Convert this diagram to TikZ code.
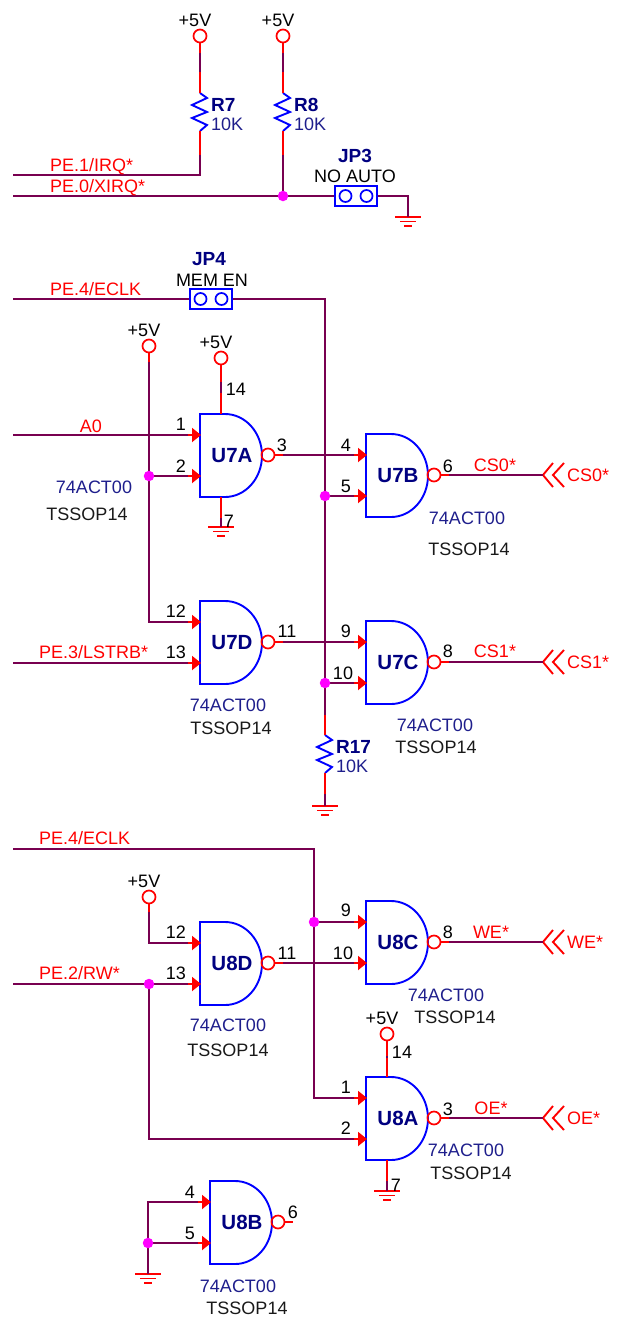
\documentclass[tikz,border=0pt]{standalone}
\usepackage{fontspec}
\setmainfont{Liberation Sans}
\usetikzlibrary{arrows.meta}
\definecolor{netcol}{RGB}{120,0,80}
\definecolor{dotcol}{RGB}{255,0,255}
\definecolor{partcol}{RGB}{0,0,255}
\definecolor{reftext}{RGB}{0,0,128}
\definecolor{valtext}{RGB}{30,30,140}
\tikzset{
txt/.style={inner sep=0pt,text height=12.5pt,text depth=0pt,font=\fontsize{18}{20}\selectfont},
pinlbl/.style={txt,text=black},
netlbl/.style={txt,text=red},
vallbl/.style={txt,text=valtext},
pkglbl/.style={txt,text=black!90},
reflbl/.style={txt,text=reftext,font=\fontsize{19}{20}\selectfont\bfseries},
gatelbl/.style={txt,text=reftext,font=\fontsize{20.5}{22}\selectfont\bfseries},
wire/.style={draw=netcol,line width=1.9pt},
pin/.style={draw=red,line width=1.9pt},
part/.style={draw=partcol,line width=1.9pt},
inarrow/.style={pin,-{Triangle[length=9pt,width=14pt]}},
bubble/.style={circle,draw=red,line width=1.7pt,minimum size=13pt,inner sep=0pt},
dot/.style={circle,fill=dotcol,minimum size=10.5pt,inner sep=0pt},
}
% gate: top left corner of the body at (#2,#3)
\newcommand{\nandgate}[4]{
\begin{scope}[shift={(#2,#3)}]
\draw[part] (25,0) -- (0,0) -- (0,83) -- (25,83) .. controls (45.4,83) and (62,64.4) .. (62,41.5) .. controls (62,18.6) and (45.4,0) .. (25,0);
\node[gatelbl] (#1) at (32,42.5) {#4};
\node[bubble] (#1-n) at (68,41) {};
\coordinate (#1-a) at (-12,21);
\coordinate (#1-b) at (-12,62);
\coordinate (#1-y) at (83,41);
\coordinate (#1-v) at (21,0);
\coordinate (#1-g) at (21,83);
\coordinate (#1-ai) at (1,21);
\coordinate (#1-bi) at (1,62);
\draw[inarrow] (#1-a) -- (#1-ai);
\draw[inarrow] (#1-b) -- (#1-bi);
\draw[pin] (#1-n) -- (#1-y);
\end{scope}
}
\newcommand{\resistor}[4]{
\begin{scope}[shift={(#2,#3)}]
\coordinate (#1-t) at (0,0);
\coordinate (#1-b) at (0,38);
\draw[part] (#1-t) -- (7,5) -- (-8,12) -- (7,19) -- (-8,25) -- (7,32) -- (#1-b);
\node[reflbl,anchor=west] (#1) at (11,12) {#4};
\node[vallbl,anchor=west] (#1-val) at (11,31) {10K};
\end{scope}
}
\newcommand{\powerpin}[4]{
\node[bubble] (#1) at (#2,#3) {};
\node[pinlbl] (#1-lbl) at (#2-#4,#3-16) {+5V};
}
\newcommand{\gnd}[3]{
\coordinate (#1) at (#2,#3);
\draw[pin] (#2-13,#3) -- (#2+13,#3) (#2-8,#3+4.5) -- (#2+8,#3+4.5) (#2-4,#3+9) -- (#2+4,#3+9);
}
\newcommand{\jumper}[3]{
\node[draw=partcol,line width=1.9pt,minimum width=42pt,minimum height=20pt,inner sep=0pt] (#1) at (#2,#3) {};
\node[circle,draw=partcol,line width=1.7pt,minimum size=12pt,inner sep=0pt] (#1-p1) at (#2-10.5,#3) {};
\node[circle,draw=partcol,line width=1.7pt,minimum size=12pt,inner sep=0pt] (#1-p2) at (#2+10.5,#3) {};
}
\newcommand{\offpage}[3]{
\coordinate (#1) at (543,#2);
\draw[pin] (553,#2-12) -- (#1) -- (553,#2+12) (564,#2-12) -- (553,#2) -- (564,#2+12);
\node[netlbl,anchor=west] (#1-lbl) at (567,#2) {#3};
}
\begin{document}
\begin{tikzpicture}[x=1pt,y=-1pt]
\useasboundingbox (0,0) rectangle (621,1326);
% top part
\powerpin{vccA}{200}{36}{5}
\powerpin{vccB}{283}{36}{5}
\resistor{R7}{200}{93}{R7}
\resistor{R8}{283}{93}{R8}
\jumper{JP3}{356}{196}{}
\node[reflbl] (JP3-ref) at (355,156) {JP3};
\node[pinlbl] (JP3-val) at (355,176) {NO AUTO};
\gnd{gndA}{408}{217}
\coordinate (irq) at (13,175);
\coordinate (xirq) at (13,196);
\coordinate (j1) at (283,196);
\draw[pin] (vccA) -- (R7-t);
\draw[wire,shorten <=10pt,shorten >=21pt] (vccA) -- (R7-t);
\draw[pin] (vccB) -- (R8-t);
\draw[wire,shorten <=10pt,shorten >=21pt] (vccB) -- (R8-t);
\draw[pin] (R7-b) -- (200,175);
\draw[wire] (irq) -| (200,155);
\draw[pin] (R8-b) -- (j1);
\draw[wire,shorten <=24pt] (R8-b) -- (j1);
\draw[wire] (xirq) -- (JP3);
\draw[wire] (JP3.east) -| (gndA);
\node[netlbl,anchor=west] (irq-lbl) at (50,165) {PE.1/IRQ*};
\node[netlbl,anchor=west] (xirq-lbl) at (50,186) {PE.0/XIRQ*};
% U7
\nandgate{U7A}{200}{414}{U7A}
\nandgate{U7B}{366}{434}{U7B}
\nandgate{U7D}{200}{601}{U7D}
\nandgate{U7C}{366}{621}{U7C}
\jumper{JP4}{211}{299}{}
\node[reflbl] (JP4-ref) at (209,259) {JP4};
\node[pinlbl] (JP4-val) at (212,280) {MEM EN};
\powerpin{vccC}{149}{346}{5}
\powerpin{vccD}{221}{358}{5}
\resistor{R17}{325}{735}{R17}
\gnd{gndB}{221}{527}
\gnd{gndC}{325}{806}
\coordinate (eclk) at (13,299);
\coordinate (a0) at (13,435);
\coordinate (lstrb) at (13,663);
\coordinate (j2) at (149,476);
\coordinate (j3) at (325,496);
\coordinate (j4) at (325,683);
\draw[wire] (eclk) -- (JP4);
\draw[wire] (JP4.east) -| (j4);
\draw[pin] (vccC) -- (149,362);
\draw[wire] (149,362) |- (U7D-a);
\draw[wire] (j2) -- (U7A-b);
\draw[wire] (a0) -- (U7A-a);
\draw[wire] (lstrb) -- (U7D-b);
\draw[pin] (vccD) -- (U7A-v);
\draw[wire,shorten <=17pt,shorten >=21pt] (vccD) -- (U7A-v);
\draw[pin] (U7A-g) -- (gndB);
\draw[wire,shorten <=21pt] (U7A-g) -- (gndB);
\draw[wire] (U7A-y) -- (U7B-a);
\draw[wire] (j3) -- (U7B-b);
\draw[wire] (U7D-y) -- (U7C-a);
\draw[wire] (j4) -- (U7C-b);
\draw[wire] (j4) -- (325,715);
\draw[pin] (325,715) -- (R17-t);
\draw[pin] (R17-b) -- (gndC);
\draw[wire,shorten <=21pt] (R17-b) -- (gndC);
\offpage{csA}{475}{CS0*}
\offpage{csB}{662}{CS1*}
\draw[wire] (U7B-y) -- (csA);
\draw[wire] (U7C-y) -- (csB);
\node[netlbl,anchor=west] (eclk-lbl) at (50,289) {PE.4/ECLK};
\node[netlbl] (a0-lbl) at (91,426) {A0};
\node[netlbl,anchor=west] (lstrb-lbl) at (39,652) {PE.3/LSTRB*};
\node[netlbl] (cs0-lbl) at (495,465) {CS0*};
\node[netlbl] (cs1-lbl) at (495,651) {CS1*};
\node[pinlbl] (p1) at (181,424) {1};
\node[pinlbl] (p2) at (181,466) {2};
\node[pinlbl] (p3) at (282,445) {3};
\node[pinlbl] (p4) at (346,445) {4};
\node[pinlbl] (p5) at (346,486) {5};
\node[pinlbl] (p6) at (448,466) {6};
\node[pinlbl] (p7) at (229,521) {7};
\node[pinlbl] (p14) at (236,389) {14};
\node[pinlbl] (p12) at (176,611) {12};
\node[pinlbl] (p13) at (176,652) {13};
\node[pinlbl] (p11) at (287,631) {11};
\node[pinlbl] (p9) at (346,631) {9};
\node[pinlbl] (p10) at (343,673) {10};
\node[pinlbl] (p8) at (448,651) {8};
\node[vallbl] (U7A-val) at (94,487) {74ACT00};
\node[pkglbl] (U7A-pkg) at (87,514) {TSSOP14};
\node[vallbl] (U7B-val) at (467,518) {74ACT00};
\node[pkglbl] (U7B-pkg) at (469,549) {TSSOP14};
\node[vallbl] (U7D-val) at (228,705) {74ACT00};
\node[pkglbl] (U7D-pkg) at (231,728) {TSSOP14};
\node[vallbl] (U7C-val) at (435,725) {74ACT00};
\node[pkglbl] (U7C-pkg) at (436,747) {TSSOP14};
% U8
\nandgate{U8D}{200}{922}{U8D}
\nandgate{U8C}{366}{901}{U8C}
\nandgate{U8A}{366}{1077}{U8A}
\nandgate{U8B}{210}{1181}{U8B}
\powerpin{vccE}{149}{897}{5}
\powerpin{vccF}{387}{1034}{5}
\gnd{gndD}{387}{1191}
\gnd{gndE}{148}{1274}
\coordinate (eclkb) at (13,849);
\coordinate (rw) at (13,984);
\coordinate (j5) at (314,922);
\coordinate (j6) at (149,984);
\coordinate (j7) at (148,1243);
\draw[wire] (eclkb) -| (314,1098) -- (U8A-a);
\draw[wire] (j5) -- (U8C-a);
\draw[pin] (vccE) -- (149,912);
\draw[wire] (149,912) |- (U8D-a);
\draw[wire] (rw) -- (U8D-b);
\draw[wire] (j6) |- (U8A-b);
\draw[wire] (U8D-y) -- (U8C-b);
\draw[pin] (vccF) -- (U8A-v);
\draw[wire,shorten <=17pt,shorten >=21pt] (vccF) -- (U8A-v);
\draw[pin] (U8A-g) -- (gndD);
\draw[wire,shorten <=21pt] (U8A-g) -- (gndD);
\draw[wire] (U8B-a) -| (gndE);
\draw[wire] (j7) -- (U8B-b);
\offpage{weA}{942}{WE*}
\offpage{oeA}{1118}{OE*}
\draw[wire] (U8C-y) -- (weA);
\draw[wire] (U8A-y) -- (oeA);
\node[netlbl,anchor=west] (eclkb-lbl) at (39,838) {PE.4/ECLK};
\node[netlbl,anchor=west] (rw-lbl) at (39,973) {PE.2/RW*};
\node[netlbl] (we-lbl) at (491,932) {WE*};
\node[netlbl] (oe-lbl) at (491,1108) {OE*};
\node[pinlbl] (q12) at (176,932) {12};
\node[pinlbl] (q13) at (176,973) {13};
\node[pinlbl] (q11) at (287,953) {11};
\node[pinlbl] (q9) at (346,910) {9};
\node[pinlbl] (q10) at (343,953) {10};
\node[pinlbl] (q8) at (448,932) {8};
\node[pinlbl] (q14) at (402,1052) {14};
\node[pinlbl] (q1) at (346,1087) {1};
\node[pinlbl] (q2) at (346,1128) {2};
\node[pinlbl] (q3) at (448,1109) {3};
\node[pinlbl] (q7) at (396,1185) {7};
\node[pinlbl] (q4) at (190,1192) {4};
\node[pinlbl] (q5) at (190,1233) {5};
\node[pinlbl] (q6) at (293,1212) {6};
\node[vallbl] (U8D-val) at (228,1025) {74ACT00};
\node[pkglbl] (U8D-pkg) at (228,1050) {TSSOP14};
\node[vallbl] (U8C-val) at (446,995) {74ACT00};
\node[pkglbl] (U8C-pkg) at (455,1017) {TSSOP14};
\node[vallbl] (U8A-val) at (466,1150) {74ACT00};
\node[pkglbl] (U8A-pkg) at (471,1173) {TSSOP14};
\node[vallbl] (U8B-val) at (238,1286) {74ACT00};
\node[pkglbl] (U8B-pkg) at (247,1308) {TSSOP14};
% junctions last so they sit on the wires
\foreach \j in {j1,j2,j3,j4,j5,j6,j7}
\node[dot] (dot-\j) at (\j) {};
\end{tikzpicture}
\end{document}
